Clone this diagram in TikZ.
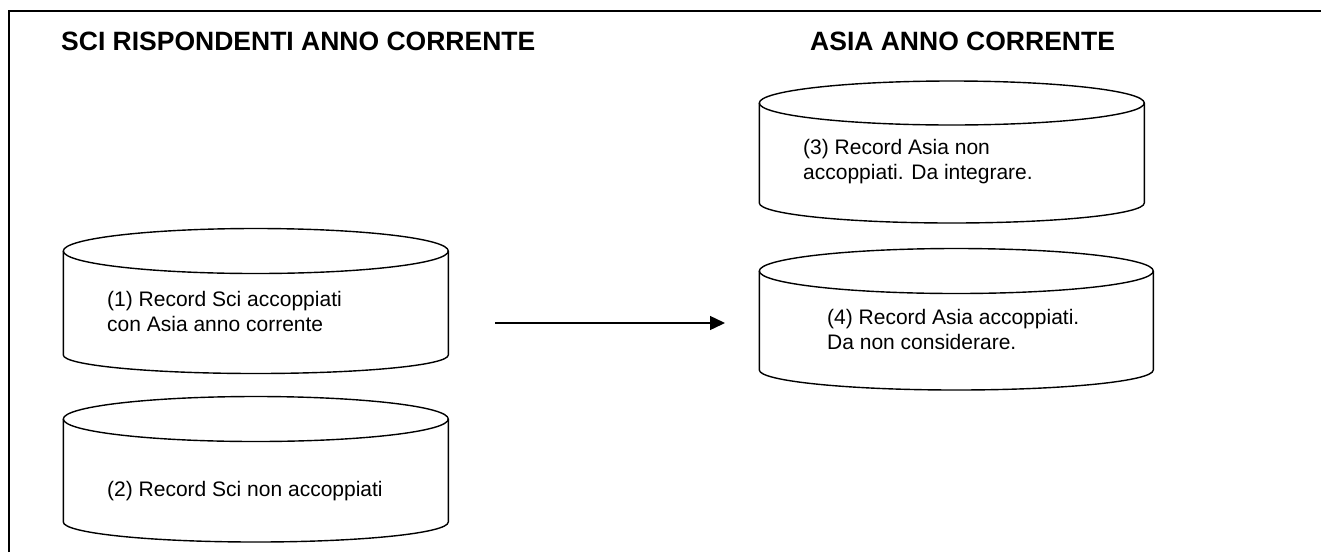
\documentclass[tikz,border=0pt]{standalone}
\usepackage{fontspec}
\setmainfont{Liberation Sans}
\usetikzlibrary{arrows.meta}
\tikzset{
  db/.style={line width=1.4pt},
  rec/.style={font=\fontsize{21}{24.5}\selectfont, align=left, inner sep=0pt, anchor=base west},
  head/.style={font=\bfseries\fontsize{26.5}{30}\selectfont, inner sep=0pt, anchor=base west},
}
\begin{document}
\begin{tikzpicture}[x=1pt,y=-1pt]
\useasboundingbox (0,0) rectangle (1321,552);
% frame
\draw[line width=2pt] (9,552) -- (9,11) -- (1321,11);
\node[head] (sci) at (61,50) {SCI RISPONDENTI ANNO CORRENTE};
\node[head] (asia) at (810,50) {ASIA ANNO CORRENTE};
% (1)
\draw[db] (255.8,251) ellipse [x radius=192.5, y radius=22.5];
\draw[db] (63.3,251) -- (63.3,355) arc[start angle=180, end angle=0, x radius=192.5, y radius=18.5] -- (448.3,251);
\node[rec] (sci1) at (107,331) {(1) Record Sci accoppiati\\con Asia anno corrente};
% (2)
\draw[db] (255.8,419) ellipse [x radius=192.5, y radius=22.5];
\draw[db] (63.3,419) -- (63.3,522) arc[start angle=180, end angle=0, x radius=192.5, y radius=20] -- (448.3,419);
\node[rec] (sci2) at (107,496) {(2) Record Sci non accoppiati};
% (3)
\draw[db] (951.8,103) ellipse [x radius=192.5, y radius=22];
\draw[db] (759.3,103) -- (759.3,203) arc[start angle=180, end angle=0, x radius=192.5, y radius=20] -- (1144.3,103);
\node[rec] (asia3) at (803,179) {(3) Record Asia non\\accoppiati. Da integrare.};
% (4)
\draw[db] (956.3,271) ellipse [x radius=197, y radius=22.5];
\draw[db] (759.3,271) -- (759.3,370) arc[start angle=180, end angle=0, x radius=197, y radius=20] -- (1153.3,271);
\node[rec] (asia4) at (827,349) {(4) Record Asia accoppiati.\\Da non considerare.};
% arrow
\coordinate (from) at (495,323);
\coordinate (to) at (725,323);
\draw[db, -{Triangle[length=15pt, width=14pt]}] (from) -- (to);
\end{tikzpicture}
\end{document}
